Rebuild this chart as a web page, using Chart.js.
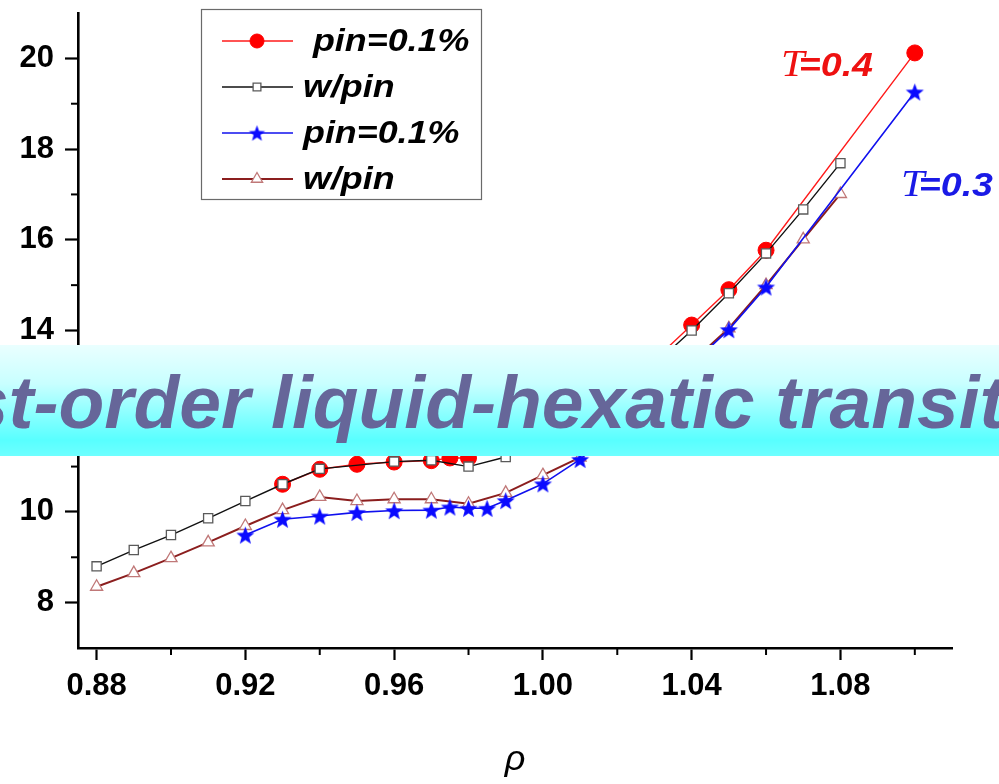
<!DOCTYPE html>
<html>
<head>
<meta charset="utf-8">
<script src="https://cdn.jsdelivr.net/npm/chart.js@4.4.1/dist/chart.umd.min.js"></script>
<style>
  html, body { margin: 0; padding: 0; background: #fff; }
  #wrap { position: relative; width: 999px; height: 784px; overflow: hidden; background: #fff; }
  #c { position: absolute; left: 0; top: 0; }
  #banner {
    position: absolute; left: 0; top: 345px; width: 999px; height: 111px; overflow: hidden;
    background: linear-gradient(to bottom, #eaffff 0%, #c8ffff 35%, #84ffff 65%, #58ffff 86%, #6effff 100%);
  }
  #banner span {
    position: absolute; left: -129px; top: 20px; white-space: nowrap;
    font: italic bold 75px/1 "Liberation Sans", Arial, sans-serif; color: #666699;
  }
</style>
</head>
<body>
<div id="wrap">
  <canvas id="c" width="999" height="784"></canvas>
  <div id="banner"><span>First-order liquid-hexatic transition</span></div>
</div>
<script>
// ---- data: density rho vs. pressure-like quantity ----
// T = 0.4, pinned fraction 0.1%
const rhoPinT04 = [0.93, 0.94, 0.95, 0.96, 0.97, 0.975, 0.98, 1.03, 1.04, 1.05, 1.06, 1.10];
const valPinT04 = [10.61, 10.94, 11.05, 11.10, 11.13, 11.19, 11.19, 13.35, 14.12, 14.90, 15.77, 20.12];
// T = 0.4, without pinning
const rhoFreeT04 = [0.88, 0.89, 0.90, 0.91, 0.92, 0.93, 0.94, 0.96, 0.97, 0.98, 0.99, 1.03, 1.04, 1.05, 1.06, 1.07, 1.08];
const valFreeT04 = [8.80, 9.16, 9.49, 9.86, 10.24, 10.61, 10.95, 11.11, 11.14, 11.00, 11.21, 13.25, 14.00, 14.82, 15.70, 16.67, 17.69];
// T = 0.3, pinned fraction 0.1%
const rhoPinT03 = [0.92, 0.93, 0.94, 0.95, 0.96, 0.97, 0.975, 0.98, 0.985, 0.99, 1.00, 1.01, 1.04, 1.05, 1.06, 1.10];
const valPinT03 = [9.49, 9.84, 9.91, 9.99, 10.03, 10.04, 10.11, 10.08, 10.08, 10.25, 10.62, 11.16, 13.25, 14.02, 14.96, 19.26];
// T = 0.3, without pinning
const rhoFreeT03 = [0.88, 0.89, 0.90, 0.91, 0.92, 0.93, 0.94, 0.95, 0.96, 0.97, 0.98, 0.99, 1.00, 1.01, 1.04, 1.05, 1.06, 1.07, 1.08];
const valFreeT03 = [8.35, 8.65, 8.98, 9.33, 9.69, 10.04, 10.33, 10.24, 10.28, 10.28, 10.18, 10.42, 10.81, 11.20, 13.30, 14.05, 15.00, 16.01, 17.01];

const seriesLabels = [' pin=0.1%', 'w/pin', 'pin=0.1%', 'w/pin'];
const xMajorTicks = [0.88, 0.92, 0.96, 1.00, 1.04, 1.08];
const xMinorTicks = [0.90, 0.94, 0.98, 1.02, 1.06, 1.10];
const yMajorTicks = [8, 10, 12, 14, 16, 18, 20];
const yMinorTicks = [9, 11, 13, 15, 17, 19];
const tempLabels = ['=0.4', '=0.3'];

const FONT = '"Liberation Sans", Arial, sans-serif';

const pairs = (xs, ys) => xs.map((x, i) => ({ x, y: ys[i] }));

// filled five-pointed star
function traceStar(ctx, cx, cy, R, r) {
  ctx.beginPath();
  for (let i = 0; i < 10; i++) {
    const a = -Math.PI / 2 + i * Math.PI / 5;
    const rad = i % 2 === 0 ? R : r;
    const px = cx + Math.cos(a) * rad, py = cy + Math.sin(a) * rad;
    i === 0 ? ctx.moveTo(px, py) : ctx.lineTo(px, py);
  }
  ctx.closePath();
}
function starImage(R, color) {
  const s = Math.ceil(R * 2 + 2);
  const cv = document.createElement('canvas');
  cv.width = s; cv.height = s;
  const g = cv.getContext('2d');
  traceStar(g, s / 2, s / 2 + R * 0.1, R, R * 0.42);
  g.fillStyle = color; g.fill();
  return cv;
}
const starBig = starImage(9.5, '#0a0aff');
const starSmall = starImage(8.5, '#0a0aff');

const datasets = [
  {
    label: seriesLabels[0], data: pairs(rhoPinT04, valPinT04), order: 4,
    borderColor: '#ff1a1a', borderWidth: 1.4, backgroundColor: '#ff0000',
    pointStyle: 'circle', pointRadius: 8, pointBorderColor: '#ff0000', pointBackgroundColor: '#ff0000', pointBorderWidth: 1,
    legendStyle: { style: 'circle', radius: 7 }
  },
  {
    label: seriesLabels[1], data: pairs(rhoFreeT04, valFreeT04), order: 3,
    borderColor: '#111111', borderWidth: 1.4,
    pointStyle: 'rect', pointRadius: 6.5, pointBorderColor: '#5a5a5a', pointBackgroundColor: '#ffffff', pointBorderWidth: 1.3,
    legendStyle: { style: 'rect', radius: 5.5 }
  },
  {
    label: seriesLabels[2], data: pairs(rhoPinT03, valPinT03), order: 1,
    borderColor: '#1010ee', borderWidth: 1.6,
    pointStyle: starBig, pointRadius: 9, pointBorderColor: '#0a0aff', pointBackgroundColor: '#0a0aff',
    legendStyle: { style: starSmall, radius: 8 }
  },
  {
    label: seriesLabels[3], data: pairs(rhoFreeT03, valFreeT03), order: 2,
    borderColor: '#8b1e1e', borderWidth: 2,
    pointStyle: 'triangle', pointRadius: 7, pointBorderColor: '#c07878', pointBackgroundColor: '#ffffff', pointBorderWidth: 1.3,
    legendStyle: { style: 'triangle', radius: 6.5 }
  }
];
datasets.forEach(d => { d.fill = false; d.tension = 0; d.showLine = true; });

// minor tick marks on both axes
const minorTicksPlugin = {
  id: 'minorTicks',
  afterDraw(chart) {
    const { ctx, scales: { x, y } } = chart;
    ctx.save();
    ctx.strokeStyle = '#000'; ctx.lineWidth = 2;
    xMinorTicks.forEach(v => {
      const px = x.getPixelForValue(v);
      ctx.beginPath(); ctx.moveTo(px, x.top); ctx.lineTo(px, x.top + 7); ctx.stroke();
    });
    yMinorTicks.forEach(v => {
      const py = y.getPixelForValue(v);
      ctx.beginPath(); ctx.moveTo(y.right, py); ctx.lineTo(y.right - 7, py); ctx.stroke();
    });
    ctx.restore();
  }
};

// boxed legend inside the plot area
const boxLegendPlugin = {
  id: 'boxLegend',
  afterDraw(chart) {
    const ctx = chart.ctx;
    const box = { l: 201, t: 9, r: 481, b: 199 };
    const rows = [41, 87, 133, 179];
    ctx.save();
    ctx.fillStyle = '#fff';
    ctx.fillRect(box.l, box.t, box.r - box.l, box.b - box.t);
    ctx.strokeStyle = '#6a6a6a'; ctx.lineWidth = 1.2;
    ctx.strokeRect(box.l + 0.5, box.t + 0.5, box.r - box.l, box.b - box.t);
    chart.data.datasets.forEach((ds, i) => {
      const yy = rows[i];
      ctx.strokeStyle = ds.borderColor; ctx.lineWidth = ds.borderWidth;
      ctx.beginPath(); ctx.moveTo(222, yy); ctx.lineTo(293, yy); ctx.stroke();
      ctx.fillStyle = ds.pointBackgroundColor;
      ctx.strokeStyle = ds.pointBorderColor;
      ctx.lineWidth = ds.pointBorderWidth || 1;
      Chart.helpers.drawPoint(ctx, {
        pointStyle: ds.legendStyle.style, radius: ds.legendStyle.radius,
        borderWidth: ds.pointBorderWidth || 1, rotation: 0
      }, 257, yy);
      ctx.save();
      ctx.translate(303, yy + 1);
      ctx.scale(1.12, 1);
      ctx.fillStyle = '#000';
      ctx.font = 'italic bold 32px ' + FONT;
      ctx.textBaseline = 'middle';
      ctx.fillText(ds.label, 0, 0);
      ctx.restore();
    });
    ctx.restore();
  }
};

// temperature tags next to the curve ends
const tempTagsPlugin = {
  id: 'tempTags',
  afterDraw(chart) {
    const ctx = chart.ctx;
    const tags = [
      { x: 781, y: 76, color: '#ee1111', text: tempLabels[0] },
      { x: 901, y: 196, color: '#1a1ae6', text: tempLabels[1] }
    ];
    tags.forEach(t => {
      ctx.save();
      ctx.translate(t.x, t.y);
      ctx.scale(1.14, 1);
      ctx.fillStyle = t.color;
      ctx.textBaseline = 'alphabetic';
      ctx.font = 'italic 37px "Liberation Serif", "Times New Roman", serif';
      ctx.fillText('T', 0, 0);
      const w = ctx.measureText('T').width;
      ctx.font = 'italic bold 33px ' + FONT;
      ctx.fillText(t.text, w - 5, 0);
      ctx.restore();
    });
  }
};

new Chart(document.getElementById('c'), {
  type: 'line',
  data: { datasets },
  options: {
    responsive: false,
    animation: false,
    devicePixelRatio: 1,
    layout: { padding: { top: 13, right: 47, left: 0, bottom: 0 } },
    plugins: { legend: { display: false }, tooltip: { enabled: false } },
    scales: {
      x: {
        type: 'linear', min: 0.875, max: 1.11,
        afterBuildTicks: s => { s.ticks = xMajorTicks.map(v => ({ value: v })); },
        afterFit: s => { s.height = 136; s.paddingLeft = 0; s.paddingRight = 0; },
        grid: { display: true, drawOnChartArea: false, drawTicks: true, tickLength: 12, tickWidth: 2.2, tickColor: '#000' },
        border: { display: true, color: '#000', width: 2.6 },
        ticks: {
          color: '#000', padding: 8, autoSkip: false, maxRotation: 0,
          font: { family: FONT, size: 31, weight: 'bold' },
          callback: v => Number(v).toFixed(2)
        },
        title: {
          display: true, text: 'ρ', color: '#000',
          font: { family: FONT, size: 36, style: 'italic' },
          padding: { top: 0, bottom: 2 }
        }
      },
      y: {
        type: 'linear', min: 7, max: 21,
        afterBuildTicks: s => { s.ticks = yMajorTicks.map(v => ({ value: v })); },
        afterFit: s => { s.width = 78; s.paddingTop = 0; s.paddingBottom = 0; },
        grid: { display: true, drawOnChartArea: false, drawTicks: true, tickLength: 13, tickWidth: 2.2, tickColor: '#000' },
        border: { display: true, color: '#000', width: 2.6 },
        ticks: {
          color: '#000', padding: 11,
          font: { family: FONT, size: 31, weight: 'bold' },
          callback: v => String(v)
        }
      }
    }
  },
  plugins: [minorTicksPlugin, boxLegendPlugin, tempTagsPlugin]
});
</script>
</body>
</html>
